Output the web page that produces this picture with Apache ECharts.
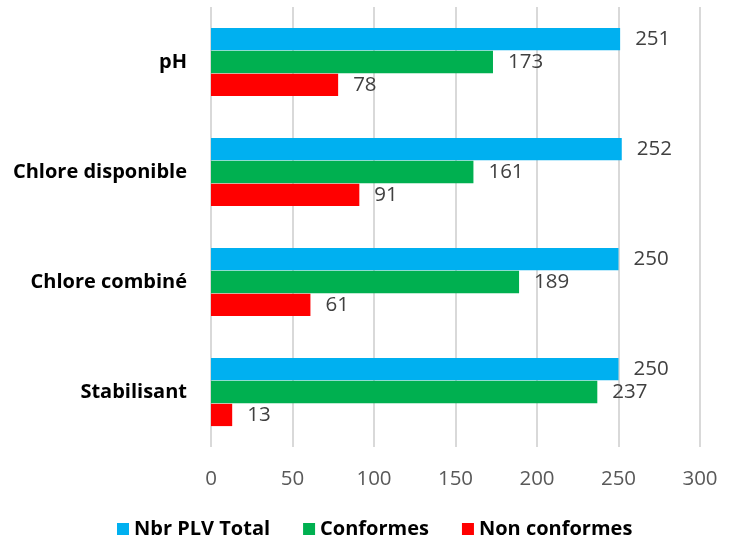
<!DOCTYPE html>
<html lang="fr">

<head>
  <meta charset="UTF-8">
  <title>PLV</title>
  <script src="https://cdn.jsdelivr.net/npm/echarts@6/dist/echarts.min.js"></script>
  <style>
    * {
      padding: 0;
      margin: 0;
    }

    #main {
      width: 731px;
      height: 540px;
    }
  </style>
</head>

<body>
  <div id="main"></div>
  <script>
    // data
    var categories = ['pH', 'Chlore disponible', 'Chlore combiné', 'Stabilisant'];
    var totalData = [251, 252, 250, 250];
    var conformesData = [173, 161, 189, 237];
    var nonConformesData = [78, 91, 61, 13];
    var xTicks = [0, 300, 50];

    var myChart = echarts.init(document.getElementById('main'));
    var font = 'Open Sans';

    var label = {
      show: true,
      position: 'right',
      distance: 15,
      color: '#404040',
      fontSize: 20.5,
      fontFamily: font
    };

    var option = {
      animation: false,
      textStyle: { fontFamily: font },
      grid: { left: 211, right: 31, top: 7, bottom: 93 },
      legend: {
        top: 514,
        left: 112,
        itemWidth: 12,
        itemHeight: 12,
        itemGap: 33,
        icon: 'rect',
        textStyle: { fontSize: 20, fontWeight: 'bold', color: '#000', fontFamily: font }
      },
      xAxis: {
        type: 'value',
        min: xTicks[0],
        max: xTicks[1],
        interval: xTicks[2],
        axisLine: { show: false },
        axisTick: { show: false },
        axisLabel: { color: '#595959', fontSize: 20.5, margin: 22, fontFamily: font },
        splitLine: { lineStyle: { color: '#d9d9d9', width: 2 } }
      },
      yAxis: {
        type: 'category',
        inverse: true,
        data: categories,
        axisLine: { show: false },
        axisTick: { show: false },
        axisLabel: { color: '#000', fontSize: 20, fontWeight: 'bold', margin: 24, fontFamily: font }
      },
      series: [
        {
          name: 'Nbr PLV Total', type: 'bar', data: totalData,
          itemStyle: { color: '#00B0F0' }, label: label,
          barGap: '3%', barCategoryGap: '38%'
        },
        {
          name: 'Conformes', type: 'bar', data: conformesData,
          itemStyle: { color: '#00B050' }, label: label
        },
        {
          name: 'Non conformes', type: 'bar', data: nonConformesData,
          itemStyle: { color: '#FF0000' }, label: label
        }
      ]
    };

    myChart.setOption(option);
  </script>
</body>

</html>
